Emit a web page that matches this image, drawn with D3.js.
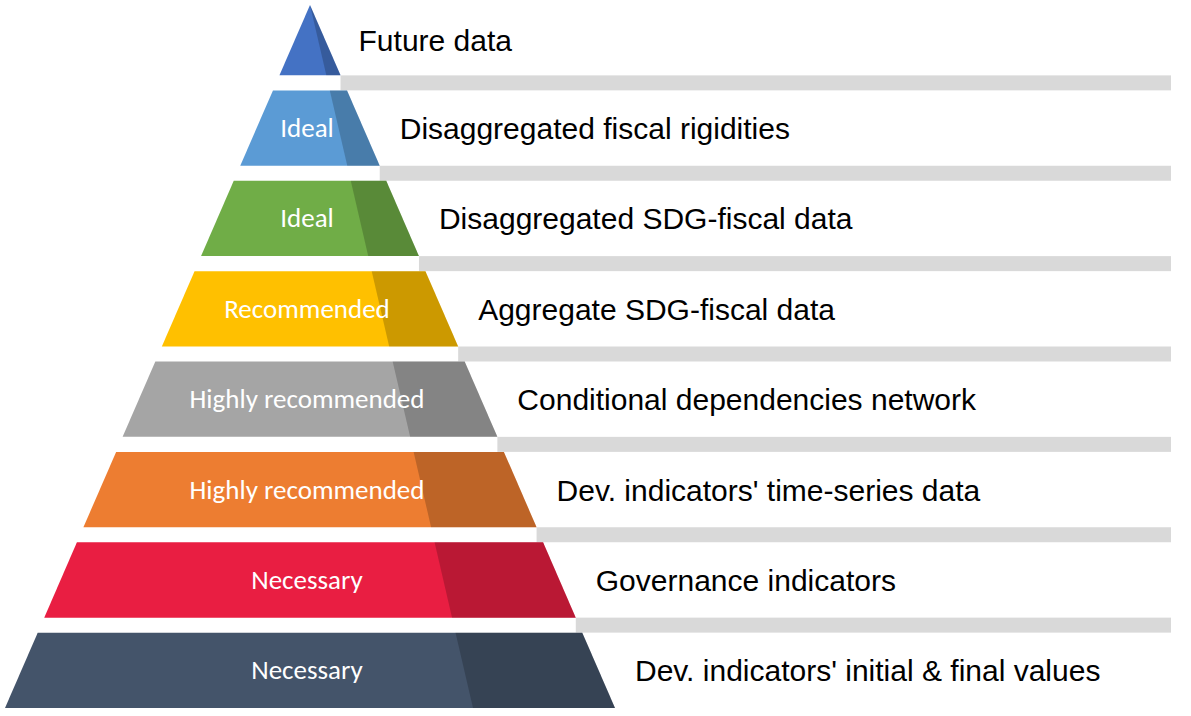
<!DOCTYPE html>
<html lang="en">
<head>
  <meta charset="UTF-8">
  <title>pyramid</title>
  <script src="https://cdn.jsdelivr.net/npm/d3@7"></script>
  <style>body{margin:0;background:#fff}</style>
</head>
<body>
  <svg width="1191" height="716" id="mainsvg"></svg>
  <script>
    const levels = ['', 'Ideal', 'Ideal', 'Recommended', 'Highly recommended', 'Highly recommended', 'Necessary', 'Necessary']
    const items = ['Future data', 'Disaggregated fiscal rigidities', 'Disaggregated SDG-fiscal data',
      'Aggregate SDG-fiscal data', 'Conditional dependencies network', "Dev. indicators' time-series data",
      'Governance indicators', "Dev. indicators' initial & final values"]
    const colors = ['#4472C4', '#5B9BD5', '#70AD47', '#FFC000', '#A5A5A5', '#ED7D31', '#E91E42', '#44546A']

    const svg = d3.select('#mainsvg')
    const apexX = 310, apexY = 5, baseY = 708, baseHalf = 305
    const yScale = d3.scaleBand().domain(d3.range(8)).range([0, baseY]).paddingInner(0.166)
    // half width of the pyramid at a given y
    const half = d3.scaleLinear().domain([apexY, baseY]).range([0, baseHalf])
    // left edge of the darker right-hand facet
    const shadeX = d3.scaleLinear().domain([apexY, baseY]).range([apexX, 473])

    // gray bands in gaps
    d3.range(7).forEach(i => {
      const y0 = yScale(i) + yScale.bandwidth()
      const y1 = yScale(i + 1)
      svg.append('rect').attr('x', apexX + half(y0)).attr('y', y0)
        .attr('width', 1171 - apexX - half(y0)).attr('height', y1 - y0).attr('fill', '#d9d9d9')
    })

    items.forEach((d, i) => {
      const t = Math.max(yScale(i), apexY), b = yScale(i) + yScale.bandwidth()
      const pts = [[apexX - half(t), t], [apexX + half(t), t], [apexX + half(b), b], [apexX - half(b), b]]
      svg.append('path').attr('d', d3.line()(pts) + 'Z').attr('fill', colors[i])
      const sh = [[shadeX(t), t], [apexX + half(t), t], [apexX + half(b), b], [shadeX(b), b]]
      svg.append('path').attr('d', d3.line()(sh) + 'Z').attr('fill', '#000').attr('opacity', 0.2)
      const cy = (t + b) / 2
      if (levels[i]) svg.append('text').text(levels[i]).attr('x', 307).attr('y', cy + 9)
        .attr('text-anchor', 'middle').attr('fill', '#fff').attr('font-size', 27)
        .attr('font-family', 'Carlito, "Open Sans", sans-serif')
      svg.append('text').text(d).attr('x', apexX + half(b) + (i === 0 ? 18 : 20)).attr('y', cy + 11)
        .attr('fill', '#000').attr('font-size', 30).attr('font-family', '"Liberation Sans", Arial, sans-serif')
    })
  </script>
</body>
</html>
